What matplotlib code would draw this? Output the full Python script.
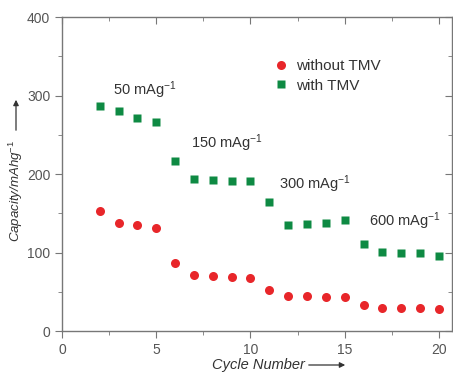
import matplotlib
matplotlib.use("Agg")
import matplotlib.pyplot as plt

plt.rcParams['font.family'] = ['Liberation Sans', 'DejaVu Sans']
plt.rcParams['mathtext.fontset'] = 'custom'
plt.rcParams['mathtext.rm'] = 'Liberation Sans'
plt.rcParams['mathtext.it'] = 'Liberation Sans:italic'

cycles = list(range(2, 21))
without_tmv = [153, 138, 135, 131, 87, 71, 70, 69, 68, 52, 45, 45, 44, 44, 33, 29, 29, 29, 28]
with_tmv = [287, 281, 271, 266, 217, 194, 192, 191, 191, 164, 135, 137, 138, 142, 111, 101, 100, 100, 96]

rate_labels = ["50 mAg$^{-1}$", "150 mAg$^{-1}$", "300 mAg$^{-1}$", "600 mAg$^{-1}$"]
rate_pos = [(2.7, 307), (6.85, 239), (11.5, 187), (16.3, 140)]

red = "#e8262a"
green = "#0e8a43"
grey = "#555555"

fig = plt.figure(figsize=(4.53, 3.72), dpi=100)
ax = fig.add_axes([0.137, 0.110, 0.861, 0.844])

ax.plot(cycles, without_tmv, 'o', color=red, ms=6.5, mec='none', label="without TMV")
ax.plot(cycles, with_tmv, 's', color=green, ms=6, mec='none', label="with TMV")

for lab, (x, y) in zip(rate_labels, rate_pos):
    ax.text(x, y, lab, fontsize=10.5, color="#333333", va='center', ha='left')

ax.set_xlim(0, 20.7)
ax.set_ylim(0, 400)
ax.set_xticks([0, 5, 10, 15, 20])
ax.set_xticks([2.5, 7.5, 12.5, 17.5], minor=True)
ax.set_yticks([0, 100, 200, 300, 400])
ax.set_yticks([50, 150, 250, 350], minor=True)

for s in ax.spines.values():
    s.set_color("#777777")
    s.set_linewidth(1.0)

ax.tick_params(which='both', direction='out', colors="#777777", labelcolor=grey, labelsize=10)
ax.tick_params(which='major', length=5)
ax.tick_params(which='minor', length=3)

# mirrored ticks on top and right, pointing inwards
ax.xaxis.set_tick_params(which='both', top=True)
ax.yaxis.set_tick_params(which='both', right=True)
for t in ax.xaxis.get_major_ticks() + ax.xaxis.get_minor_ticks():
    t.tick2line.set_marker(3)  # TICKDOWN
for t in ax.yaxis.get_major_ticks() + ax.yaxis.get_minor_ticks():
    t.tick2line.set_marker(0)  # TICKLEFT

leg = ax.legend(loc='upper left', bbox_to_anchor=(0.525, 0.885), frameon=False,
                fontsize=11, handletextpad=0.5, labelspacing=0.35, handlelength=1.0,
                borderaxespad=0)
for t in leg.get_texts():
    t.set_color("#333333")

# axis labels with arrows
fig.text(212 / 453, 1 - 365 / 372, "Cycle Number", fontsize=10.5, style='italic',
         color="#333333", ha='left', va='center')
fig.add_artist(matplotlib.patches.FancyArrowPatch(
    (306 / 453, 1 - 365 / 372), (348 / 453, 1 - 365 / 372),
    transform=fig.transFigure, arrowstyle='-|>', mutation_scale=8,
    color="#333333", lw=0.9))

fig.text(16 / 453, 1 - 242 / 372, "Capacity/mAhg$^{-1}$", fontsize=9.5, style='italic',
         color="#333333", ha='center', va='bottom', rotation=90)
fig.add_artist(matplotlib.patches.FancyArrowPatch(
    (16 / 453, 1 - 133 / 372), (16 / 453, 1 - 97 / 372),
    transform=fig.transFigure, arrowstyle='-|>', mutation_scale=8,
    color="#333333", lw=0.9))

fig.savefig("out.png", dpi=100)
